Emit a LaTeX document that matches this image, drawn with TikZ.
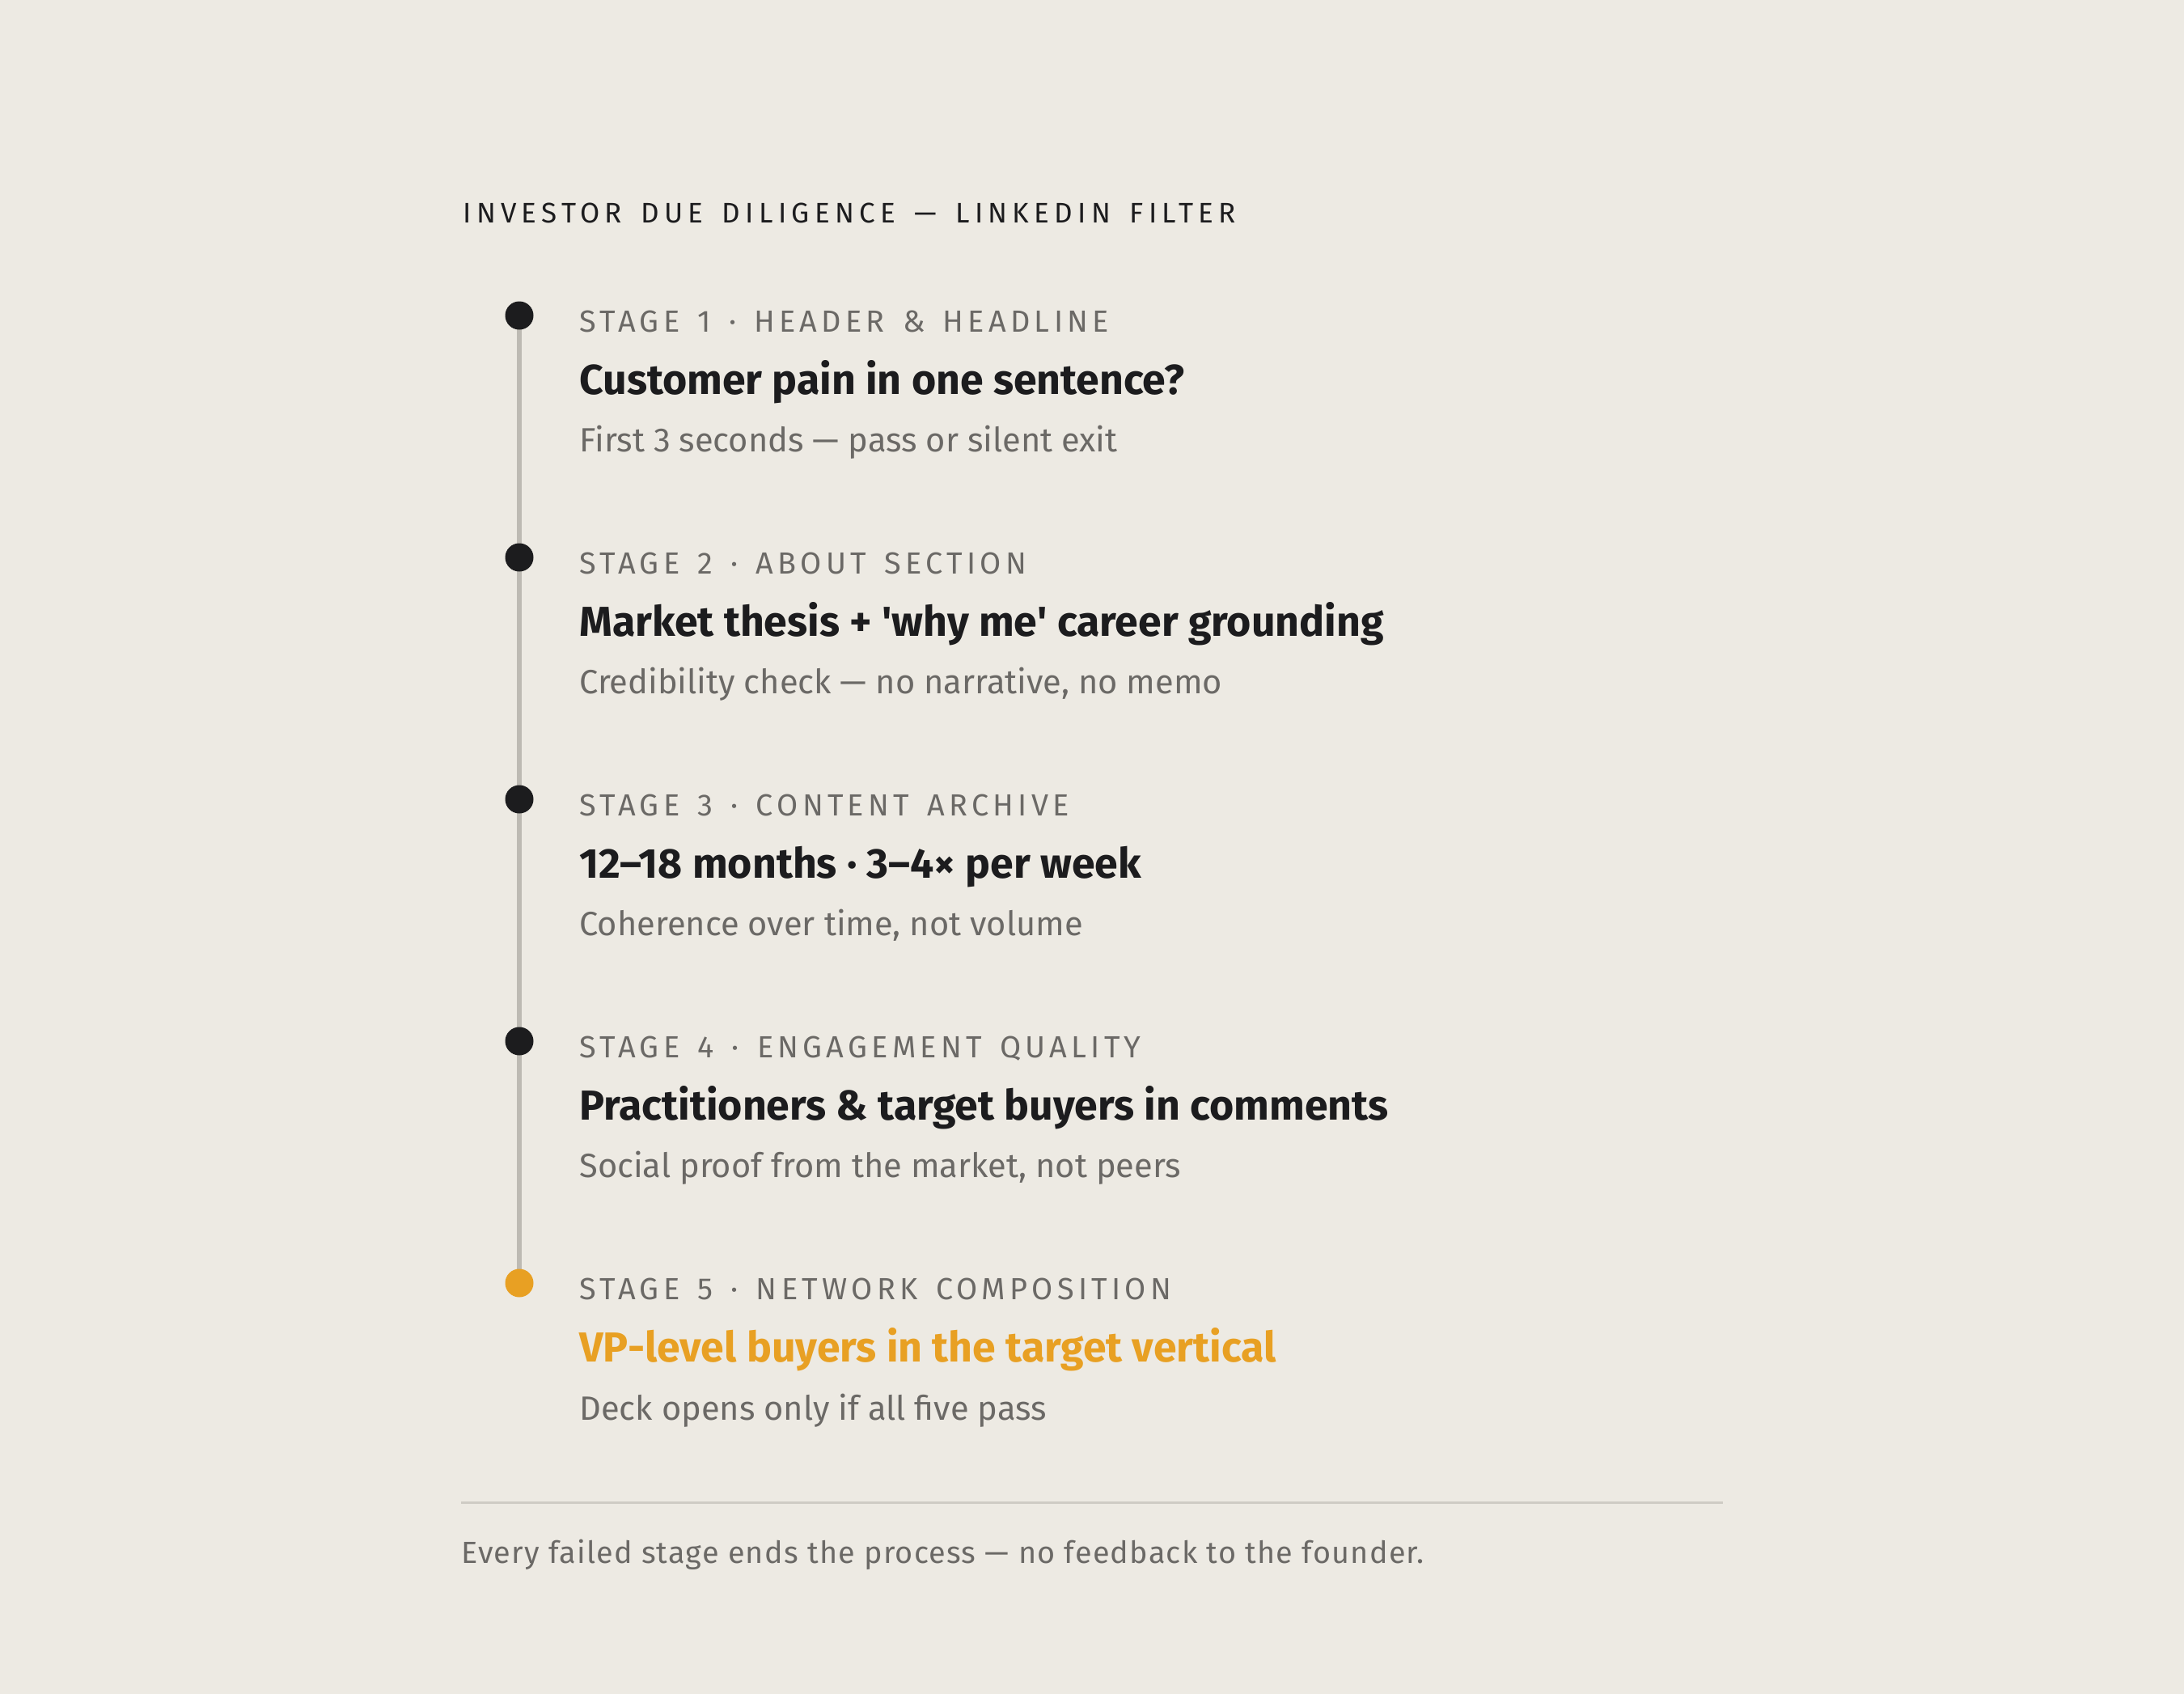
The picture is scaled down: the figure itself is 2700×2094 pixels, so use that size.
\documentclass[tikz,border=0pt]{standalone}
\usepackage{fontspec}
\setmainfont{Fira Sans}
\newfontfamily\titlefont[LetterSpace=18,WordSpace=1.5]{Fira Sans}
\newfontfamily\labelfont[LetterSpace=14,WordSpace=1.45]{Fira Sans}
\newfontfamily\footfont[LetterSpace=3.3]{Fira Sans}
\definecolor{bgc}{HTML}{EDEAE3}
\definecolor{ink}{HTML}{1C1C1E}
\definecolor{mute}{HTML}{6B6966}
\definecolor{railc}{HTML}{BDBAB3}
\definecolor{sepc}{HTML}{CFCCC5}
\definecolor{accent}{HTML}{E8A023}
\tikzset{
  txt/.style={inner sep=0pt, anchor=base west},
  titletxt/.style={txt, text=ink, font=\titlefont\fontsize{17.5}{20}\selectfont},
  labeltxt/.style={txt, text=mute, font=\labelfont\fontsize{18.9}{22}\selectfont},
  headtxt/.style={txt, text=ink, font=\bfseries\fontsize{25.9}{30}\selectfont},
  subtxt/.style={txt, text=mute, font=\fontsize{20.8}{24}\selectfont},
  foottxt/.style={txt, text=mute, font=\footfont\fontsize{18.9}{22}\selectfont},
  dotnode/.style={circle, fill=ink, inner sep=0pt, minimum size=17.5pt},
  rail/.style={draw=railc, line width=2.6pt},
  sepline/.style={draw=sepc, line width=1.5pt}
}
\begin{document}
\begin{tikzpicture}[x=0.5pt,y=-0.5pt]
\fill[bgc] (0,0) rectangle (2700,2094);
\useasboundingbox (0,0) rectangle (2700,2094);
\node[titletxt] (title) at (572,275) {INVESTOR DUE DILIGENCE — LINKEDIN FILTER};
\coordinate (c1) at (642,390);
\coordinate (c5) at (642,1586);
\draw[rail] (c1) -- (c5);
% stage 1
\node[dotnode] (d1) at (642,390) {};
\node[labeltxt] (l1) at (716,410) {STAGE 1 · HEADER \& HEADLINE};
\node[headtxt] (h1) at (716,487) {Customer pain in one sentence?};
\node[subtxt] (s1) at (716,558) {First 3 seconds — pass or silent exit};
% stage 2
\node[dotnode] (d2) at (642,689) {};
\node[labeltxt] (l2) at (716,709) {STAGE 2 · ABOUT SECTION};
\node[headtxt] (h2) at (716,786) {Market thesis + \textquotesingle why me\textquotesingle{} career grounding};
\node[subtxt] (s2) at (716,857) {Credibility check — no narrative, no memo};
% stage 3
\node[dotnode] (d3) at (642,988) {};
\node[labeltxt] (l3) at (716,1008) {STAGE 3 · CONTENT ARCHIVE};
\node[headtxt] (h3) at (716,1085) {12–18 months · 3–4× per week};
\node[subtxt] (s3) at (716,1156) {Coherence over time, not volume};
% stage 4
\node[dotnode] (d4) at (642,1287) {};
\node[labeltxt] (l4) at (716,1307) {STAGE 4 · ENGAGEMENT QUALITY};
\node[headtxt] (h4) at (716,1384) {Practitioners \& target buyers in comments};
\node[subtxt] (s4) at (716,1455) {Social proof from the market, not peers};
% stage 5
\node[dotnode, fill=accent] (d5) at (642,1586) {};
\node[labeltxt] (l5) at (716,1606) {STAGE 5 · NETWORK COMPOSITION};
\node[headtxt, text=accent] (h5) at (716,1683) {VP-level buyers in the target vertical};
\node[subtxt] (s5) at (716,1755) {Deck opens only if all five pass};
% footer
\coordinate (sa) at (570,1857);
\coordinate (sb) at (2130,1857);
\draw[sepline] (sa) -- (sb);
\node[foottxt] (foot) at (570,1932) {Every failed stage ends the process — no feedback to the founder.};
\end{tikzpicture}
\end{document}
